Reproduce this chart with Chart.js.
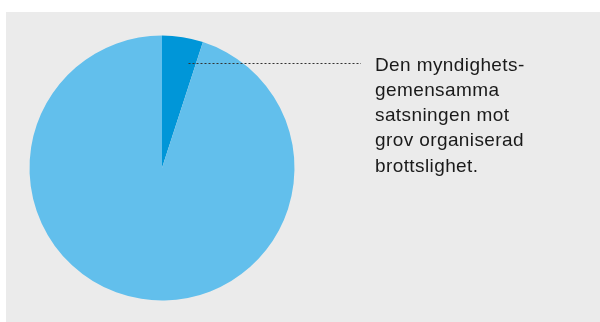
<!DOCTYPE html>
<html>
<head>
<meta charset="utf-8">
<script src="https://cdn.jsdelivr.net/npm/chart.js@4"></script>
<style>
  html, body { margin: 0; padding: 0; background: #fff; }
  #wrap { position: absolute; left: 6px; top: 12px; width: 594px; height: 310px; background: #ebebeb; }
</style>
</head>
<body>
<div id="wrap"><canvas id="myChart" width="594" height="310"></canvas></div>
<script>
const labels = ['Den myndighetsgemensamma satsningen mot grov organiserad brottslighet', 'Övrigt'];
const values = [5, 95];
const colors = ['#0096d8', '#62bfec'];
const noteLines = ['Den myndighets-', 'gemensamma', 'satsningen mot', 'grov organiserad', 'brottslighet.'];

// dashed line + text next to the pie
const notePlugin = {
    id: 'note',
    afterDraw(chart) {
        const arc = chart.getDatasetMeta(0).data[0];
        const ctx = chart.ctx;
        const r = arc.outerRadius;
        const y = arc.y - 0.79 * r;
        ctx.save();
        ctx.strokeStyle = '#333';
        ctx.lineWidth = 1;
        ctx.setLineDash([2, 2]);
        ctx.beginPath();
        ctx.moveTo(arc.x + 0.2 * r, Math.round(y) + 0.5);
        ctx.lineTo(355, Math.round(y) + 0.5);
        ctx.stroke();
        ctx.setLineDash([]);
        ctx.fillStyle = '#1a1a1a';
        ctx.font = '19px "Liberation Sans", Arial, sans-serif';
        ctx.letterSpacing = '0.4px';
        ctx.textBaseline = 'alphabetic';
        noteLines.forEach((t, i) => {
            ctx.fillText(t, 369, 58.5 + i * 25.25);
        });
        ctx.restore();
    }
};

const myChartRef = document.getElementById('myChart').getContext('2d');
new Chart(myChartRef, {
    type: 'pie',
    data: {
        labels: labels,
        datasets: [{
            data: values,
            backgroundColor: colors,
            borderWidth: 0
        }]
    },
    options: {
        responsive: false,
        animation: false,
        layout: { padding: { left: 23.5, right: 305.5, top: 23.5, bottom: 21.5 } },
        plugins: {
            legend: { display: false },
            tooltip: { enabled: false }
        }
    },
    plugins: [notePlugin]
});
</script>
</body>
</html>
